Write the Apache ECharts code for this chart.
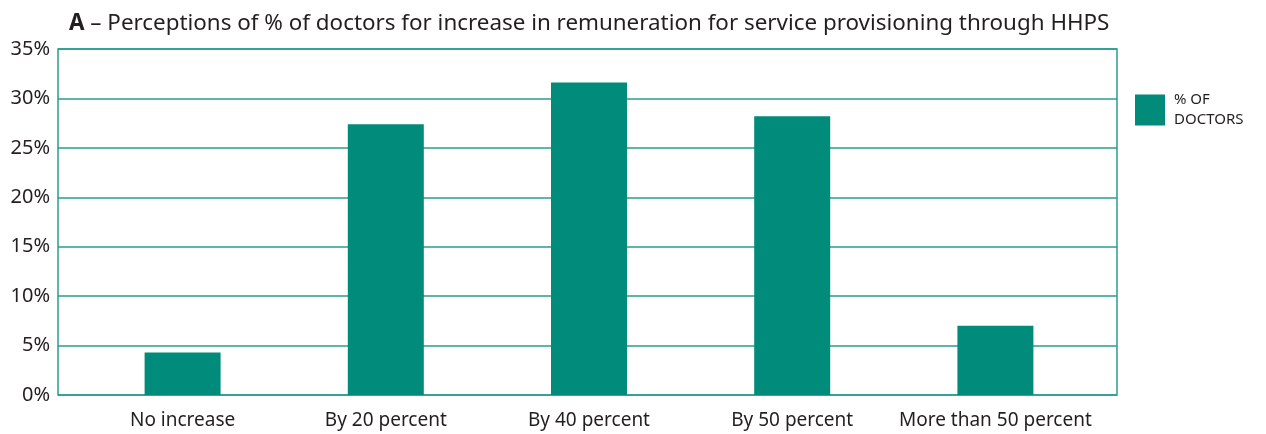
<!DOCTYPE html>
<html>
<head>
<meta charset="utf-8">
<script src="https://cdn.jsdelivr.net/npm/echarts@6/dist/echarts.min.js"></script>
<style>html,body{margin:0;padding:0;background:#fff;}#c{width:1266px;height:434px;}</style>
</head>
<body>
<div id="c"></div>
<script>
const titleBold = 'A';
const titleRest = ' – Perceptions of % of doctors for increase in remuneration for service provisioning through HHPS';
const categories = ['No increase', 'By 20 percent', 'By 40 percent', 'By 50 percent', 'More than 50 percent'];
const seriesName = '% OF\nDOCTORS';
const values = [4.3, 27.4, 31.6, 28.2, 7.0];
const yTicks = [0, 5, 10, 15, 20, 25, 30, 35];

const FONT = 'Noto Sans';
const TXT = '#231f20';
const BAR = '#008b7a';
const LINE = '#2a9d8e';

const chart = echarts.init(document.getElementById('c'), null, {renderer: 'canvas'});
chart.setOption({
  animation: false,
  backgroundColor: '#fff',
  textStyle: {fontFamily: FONT, color: TXT},
  title: {
    text: '{b|' + titleBold + '}{r|' + titleRest + '}',
    left: 64, top: 8,
    textStyle: {
      fontWeight: 'normal',
      rich: {
        b: {fontFamily: FONT, fontSize: 22.4, fontWeight: 'bold', color: TXT},
        r: {fontFamily: FONT, fontSize: 22.4, fontWeight: 'normal', color: TXT}
      }
    }
  },
  legend: {
    left: 1135, top: 90, padding: 0,
    itemWidth: 30, itemHeight: 31, itemGap: 10,
    icon: 'rect',
    textStyle: {fontFamily: FONT, fontSize: 15, color: TXT, lineHeight: 20, padding: [0, 0, 0, 4]},
    data: [seriesName]
  },
  grid: [
    {left: 58, right: 149, top: 49, bottom: 39, show: true, borderColor: LINE, borderWidth: 1.5, backgroundColor: 'transparent'},
    {left: 81, right: 169, top: 49, bottom: 39}
  ],
  xAxis: [
    {gridIndex: 0, type: 'value', show: false, min: 0, max: 1},
    {gridIndex: 1, type: 'category', data: categories,
      axisLine: {show: false}, axisTick: {show: false},
      axisLabel: {fontFamily: FONT, fontSize: 19, color: TXT, margin: 16, interval: 0}}
  ],
  yAxis: [
    {gridIndex: 0, type: 'value', min: yTicks[0], max: yTicks[yTicks.length - 1], interval: 5,
      axisLine: {show: false}, axisTick: {show: false},
      axisLabel: {fontFamily: FONT, fontSize: 20, color: TXT, margin: 8, formatter: '{value}%'},
      splitLine: {show: true, lineStyle: {color: LINE, width: 1.5}}},
    {gridIndex: 1, type: 'value', min: yTicks[0], max: yTicks[yTicks.length - 1], show: false}
  ],
  series: [{
    name: seriesName, type: 'bar', xAxisIndex: 1, yAxisIndex: 1,
    barWidth: 76, itemStyle: {color: BAR}, data: values
  }]
});
</script>
</body>
</html>
